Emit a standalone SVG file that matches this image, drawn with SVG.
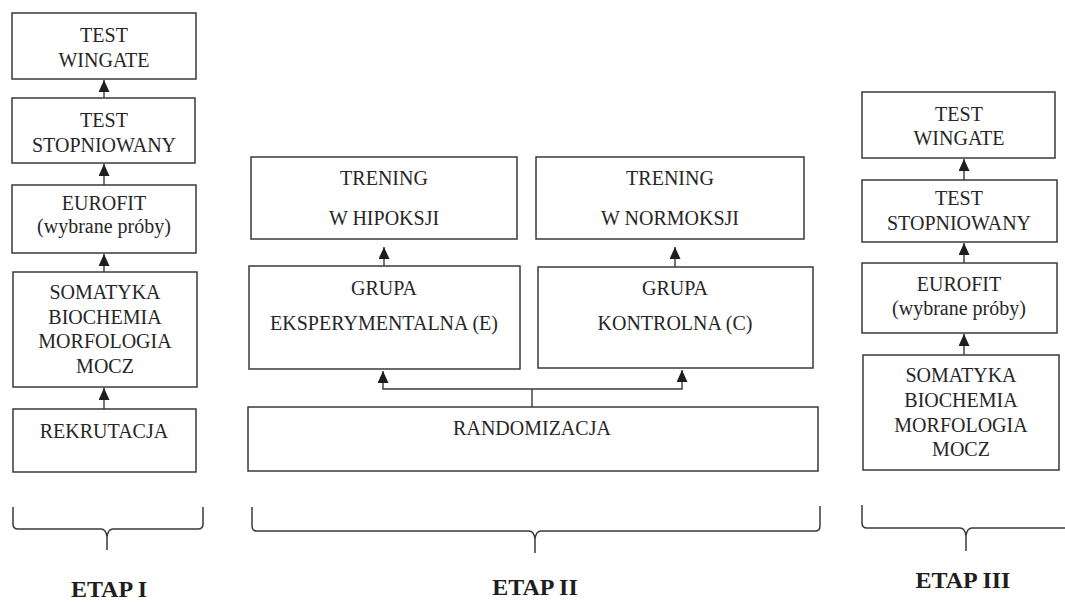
<svg xmlns="http://www.w3.org/2000/svg" width="1065" height="603" viewBox="0 0 1065 603">
<style>
.box{fill:#fff;stroke:#3a3a3a;stroke-width:1.5}
.t{font-family:"Liberation Serif","Times New Roman",serif;font-size:20px;fill:#262626;text-anchor:middle}
.et{font-family:"Liberation Serif","Times New Roman",serif;font-size:24px;font-weight:bold;fill:#1e1e1e;text-anchor:middle}
.ln{fill:none;stroke:#3a3a3a;stroke-width:1.4}
.br{fill:none;stroke:#3a3a3a;stroke-width:1.5}
</style>
<defs>
<marker id="ah" markerUnits="userSpaceOnUse" viewBox="0 0 12 11" markerWidth="12" markerHeight="11" refX="12" refY="5.5" orient="auto">
<path d="M0,0 L12,5.5 L0,11 Z" fill="#1e1e1e"/>
</marker>
</defs>
<rect width="1065" height="603" fill="#fff"/>

<g id="e1-wingate"><rect class="box" x="12" y="13" width="184" height="66"/><text class="t" x="104" y="42">TEST</text><text class="t" x="104" y="67">WINGATE</text></g>
<g id="e1-stopniowany"><rect class="box" x="12" y="98" width="183" height="65"/><text class="t" x="104" y="127">TEST</text><text class="t" x="104" y="152">STOPNIOWANY</text></g>
<g id="e1-eurofit"><rect class="box" x="12" y="185" width="184" height="68"/><text class="t" x="104" y="210">EUROFIT</text><text class="t" x="104" y="233">(wybrane próby)</text></g>
<g id="e1-somatyka"><rect class="box" x="13" y="272" width="184" height="115"/><text class="t" x="105" y="299">SOMATYKA</text><text class="t" x="105" y="323.5">BIOCHEMIA</text><text class="t" x="105" y="348">MORFOLOGIA</text><text class="t" x="105" y="372.5">MOCZ</text></g>
<g id="e1-rekrutacja"><rect class="box" x="13" y="409" width="183" height="63"/><text class="t" x="104" y="438">REKRUTACJA</text></g>

<g id="e2-trening-h"><rect class="box" x="251" y="157" width="266" height="82"/><text class="t" x="384" y="185">TRENING</text><text class="t" x="384" y="225">W HIPOKSJI</text></g>
<g id="e2-trening-n"><rect class="box" x="536" y="157" width="268" height="82"/><text class="t" x="670" y="185">TRENING</text><text class="t" x="670" y="225">W NORMOKSJI</text></g>
<g id="e2-grupa-e"><rect class="box" x="249" y="266" width="271" height="103"/><text class="t" x="384" y="295">GRUPA</text><text class="t" x="384" y="330">EKSPERYMENTALNA (E)</text></g>
<g id="e2-grupa-c"><rect class="box" x="538" y="267" width="275" height="101"/><text class="t" x="675" y="295">GRUPA</text><text class="t" x="675" y="330">KONTROLNA (C)</text></g>
<g id="e2-randomizacja"><rect class="box" x="248" y="407" width="570" height="64"/><text class="t" x="532" y="435">RANDOMIZACJA</text></g>

<g id="e3-wingate"><rect class="box" x="862" y="92" width="193" height="66"/><text class="t" x="959" y="121">TEST</text><text class="t" x="959" y="145">WINGATE</text></g>
<g id="e3-stopniowany"><rect class="box" x="862" y="180" width="195" height="62"/><text class="t" x="959" y="205">TEST</text><text class="t" x="959" y="230">STOPNIOWANY</text></g>
<g id="e3-eurofit"><rect class="box" x="862" y="263" width="195" height="70"/><text class="t" x="959" y="291">EUROFIT</text><text class="t" x="959" y="315">(wybrane próby)</text></g>
<g id="e3-somatyka"><rect class="box" x="863" y="355" width="196" height="115"/><text class="t" x="961" y="382">SOMATYKA</text><text class="t" x="961" y="407">BIOCHEMIA</text><text class="t" x="961" y="432">MORFOLOGIA</text><text class="t" x="961" y="456">MOCZ</text></g>

<g id="connectors">
<line class="ln" x1="104" y1="98" x2="104" y2="80" marker-end="url(#ah)"/>
<line class="ln" x1="104" y1="185" x2="104" y2="164" marker-end="url(#ah)"/>
<line class="ln" x1="104" y1="272" x2="104" y2="254" marker-end="url(#ah)"/>
<line class="ln" x1="104" y1="409" x2="104" y2="388" marker-end="url(#ah)"/>
<line class="ln" x1="384" y1="266" x2="384" y2="247" marker-end="url(#ah)"/>
<line class="ln" x1="675" y1="267" x2="675" y2="247" marker-end="url(#ah)"/>
<line class="ln" x1="532" y1="407" x2="532" y2="389"/>
<polyline class="ln" points="383,389 383,371" marker-end="url(#ah)"/>
<polyline class="ln" points="682,389 682,370" marker-end="url(#ah)"/>
<line class="ln" x1="382.3" y1="389" x2="682.7" y2="389"/>
<line class="ln" x1="964" y1="180" x2="964" y2="159" marker-end="url(#ah)"/>
<line class="ln" x1="964" y1="263" x2="964" y2="243" marker-end="url(#ah)"/>
<line class="ln" x1="964" y1="355" x2="964" y2="334" marker-end="url(#ah)"/>
</g>

<g id="etap1">
<path class="br" d="M13,507 V524 Q13,529 18,529 H101 Q106,529 107,537 V550 M107,537 Q108,529 113,529 H198 Q203,529 203,524 V507"/>
<text class="et" x="109" y="597">ETAP I</text>
</g>
<g id="etap2">
<path class="br" d="M252,507 V526 Q252,531 257,531 H529 Q534,531 535,539 V553 M535,539 Q536,531 541,531 H815 Q820,531 820,526 V506"/>
<text class="et" x="535" y="595">ETAP II</text>
</g>
<g id="etap3">
<path class="br" d="M862,505 V523 Q862,528 867,528 H960 Q965,528 966,536 V551 M966,536 Q967,528 972,528 H1070"/>
<text class="et" x="963" y="588">ETAP III</text>
</g>
</svg>
